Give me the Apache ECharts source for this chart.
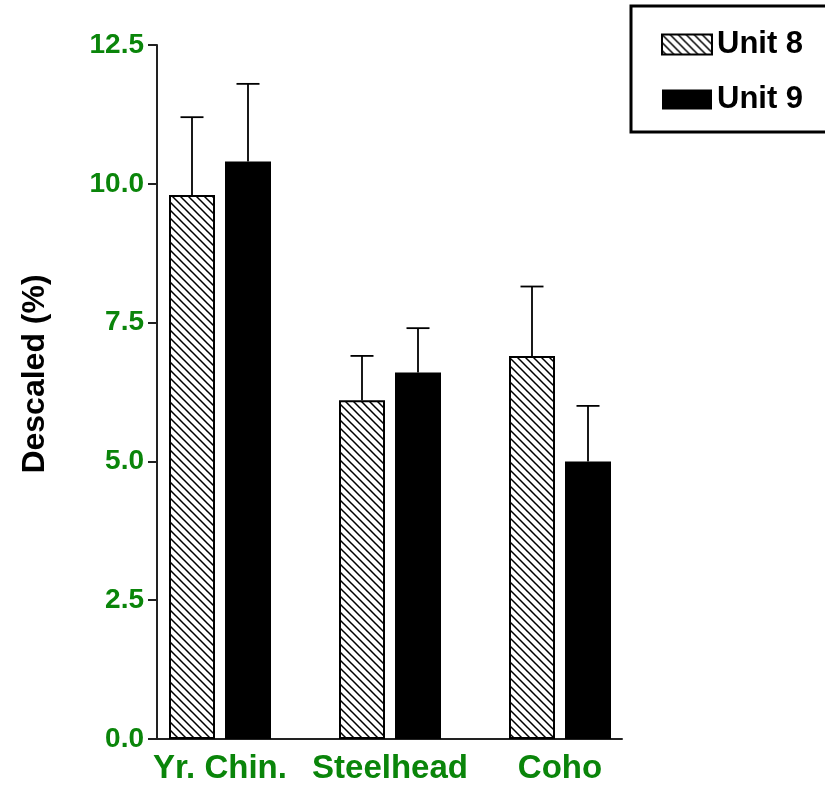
<!DOCTYPE html>
<html>
<head>
<meta charset="utf-8">
<title>Descaled (%)</title>
<script src="https://cdn.jsdelivr.net/npm/echarts@6/dist/echarts.min.js"></script>
<style>
  html, body { margin: 0; padding: 0; background: #ffffff; }
  #chart { width: 825px; height: 790px; }
</style>
</head>
<body>
<div id="chart"></div>
<script>
// Fish groups on the x axis
const categories = ['Yr. Chin.', 'Steelhead', 'Coho'];
// Mean descaling per unit (%)
const unit8 = [9.8, 6.1, 6.9];
const unit9 = [10.4, 6.6, 5.0];
// Upper error bar lengths (%)
const unit8Err = [1.4, 0.8, 1.25];
const unit9Err = [1.4, 0.8, 1.0];
// Y axis range
const yMin = 0;
const yMax = 12.5;
const yStep = 2.5;

const GREEN = '#0a850a';
const AXIS = '#222222';
const BAR_W = 46;
const BAR_GAP = 10;
const CAP_W = 23;
const FONT = '"Liberation Sans", Arial, Helvetica, sans-serif';

// Diagonal "\" hatch tile for Unit 8
function hatchTile() {
  const s = 8;
  const c = document.createElement('canvas');
  c.width = s; c.height = s;
  const g = c.getContext('2d');
  g.fillStyle = '#ffffff';
  g.fillRect(0, 0, s, s);
  g.strokeStyle = '#000000';
  g.lineWidth = 1.5;
  g.beginPath();
  for (const k of [-s, 0, s]) {
    g.moveTo(k - 1, -1);
    g.lineTo(k + s + 1, s + 1);
  }
  g.stroke();
  return c;
}

const chart = echarts.init(document.getElementById('chart'), null, { renderer: 'canvas' });

function errorSeries(name, values, errs, side) {
  const data = values.map((v, i) => [i, v, errs[i]]);
  return {
    type: 'custom',
    name: name + ' error',
    xAxisIndex: 1,
    yAxisIndex: 1,
    z: 3,
    silent: true,
    data: data,
    renderItem: function (params, api) {
      const i = api.value(0);
      const v = api.value(1);
      const e = api.value(2);
      const base = api.coord([i, v]);
      const top = api.coord([i, v + e]);
      const x = base[0] + side * (BAR_W + BAR_GAP) / 2;
      const style = { stroke: '#000000', lineWidth: 1.8 };
      return {
        type: 'group',
        children: [
          { type: 'line', shape: { x1: x, y1: base[1], x2: x, y2: top[1] }, style: style },
          { type: 'line', shape: { x1: x - CAP_W / 2, y1: top[1], x2: x + CAP_W / 2, y2: top[1] }, style: style }
        ]
      };
    }
  };
}

const option = {
  backgroundColor: '#ffffff',
  animation: false,
  legend: {
    data: ['Unit 8', 'Unit 9'],
    orient: 'vertical',
    left: 631,
    top: 6,
    padding: [23, 70, 17, 30],
    borderColor: '#000000',
    borderWidth: 3,
    itemWidth: 50,
    itemHeight: 20,
    itemGap: 24,
    icon: 'rect',
    textStyle: { fontFamily: FONT, fontWeight: 'bold', fontSize: 31, color: '#000000', lineHeight: 22 }
  },
  grid: [
    // frame for the drawn axes
    { left: 157, right: 203, top: 45, bottom: 51 },
    // frame the bars are laid out in
    { left: 135, right: 180, top: 45, bottom: 51 }
  ],
  xAxis: [
    {
      type: 'value', gridIndex: 0, min: 0, max: 1,
      axisLine: { show: true, lineStyle: { color: AXIS, width: 2 } },
      axisTick: { show: false }, axisLabel: { show: false }, splitLine: { show: false }
    },
    {
      type: 'category', gridIndex: 1, data: categories,
      axisLine: { show: false }, axisTick: { show: false }, splitLine: { show: false },
      axisLabel: {
        interval: 0, hideOverlap: false,
        color: GREEN, fontFamily: FONT, fontWeight: 'bold', fontSize: 33, margin: 13
      }
    }
  ],
  yAxis: [
    {
      type: 'value', gridIndex: 0, min: yMin, max: yMax, interval: yStep,
      name: 'Descaled (%)', nameLocation: 'middle', nameGap: 106,
      nameTextStyle: { fontFamily: FONT, fontWeight: 'bold', fontSize: 32, color: '#000000', padding: [0, 0, 0, 36] },
      axisLine: { show: true, lineStyle: { color: AXIS, width: 2 } },
      axisTick: { show: true, length: 9, lineStyle: { color: AXIS, width: 2 } },
      splitLine: { show: false },
      axisLabel: {
        color: GREEN, fontFamily: FONT, fontWeight: 'bold', fontSize: 28, margin: 13,
        formatter: v => v.toFixed(1)
      }
    },
    {
      type: 'value', gridIndex: 1, min: yMin, max: yMax, interval: yStep, show: false,
      splitLine: { show: false }
    }
  ],
  series: [
    {
      name: 'Unit 8', type: 'bar', xAxisIndex: 1, yAxisIndex: 1,
      data: unit8, barWidth: BAR_W, barGap: (BAR_GAP / BAR_W * 100) + '%',
      itemStyle: { color: { image: hatchTile(), repeat: 'repeat' }, borderColor: '#000000', borderWidth: 2 },
      z: 2
    },
    {
      name: 'Unit 9', type: 'bar', xAxisIndex: 1, yAxisIndex: 1,
      data: unit9, barWidth: BAR_W,
      itemStyle: { color: '#000000', borderColor: '#000000', borderWidth: 0 },
      z: 2
    },
    errorSeries('Unit 8', unit8, unit8Err, -1),
    errorSeries('Unit 9', unit9, unit9Err, 1)
  ]
};

chart.setOption(option);
</script>
</body>
</html>
